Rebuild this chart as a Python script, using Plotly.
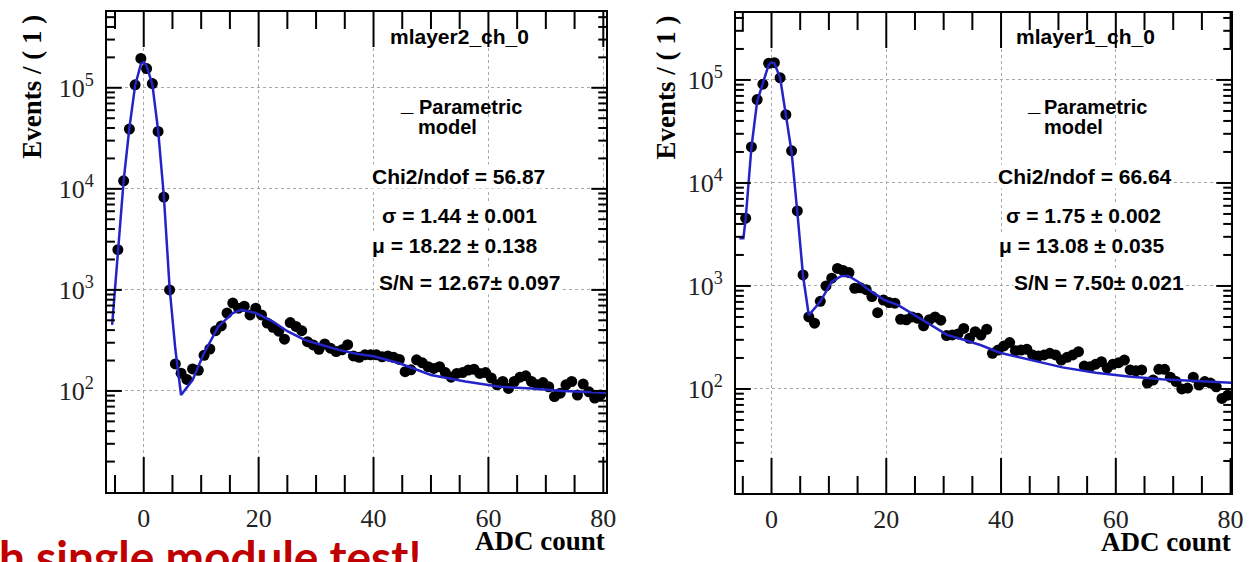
import plotly.graph_objects as go

W, H = 1260, 562

# ---------------- data ----------------
bin_centers = [-4.5, -3.5, -2.5, -1.5, -0.5, 0.5, 1.5, 2.5, 3.5, 4.5, 5.5, 6.5, 7.5, 8.5, 9.5,
               10.5, 11.5, 12.5, 13.5, 14.5, 15.5, 16.5, 17.5, 18.5, 19.5, 20.5, 21.5, 22.5,
               23.5, 24.5, 25.5, 26.5, 27.5, 28.5, 29.5, 30.5, 31.5, 32.5, 33.5, 34.5, 35.5,
               36.5, 37.5, 38.5, 39.5, 40.5, 41.5, 42.5, 43.5, 44.5, 45.5, 46.5, 47.5, 48.5,
               49.5, 50.5, 51.5, 52.5, 53.5, 54.5, 55.5, 56.5, 57.5, 58.5, 59.5, 60.5, 61.5,
               62.5, 63.5, 64.5, 65.5, 66.5, 67.5, 68.5, 69.5, 70.5, 71.5, 72.5, 73.5, 74.5,
               75.5, 76.5, 77.5, 78.5, 79.5]

layer2_counts = [2500, 12000, 39000, 107000, 195000, 155000, 110000, 37000, 8300, 1000,
                 185, 150, 130, 165, 160, 225, 260, 395, 440, 590, 740, 660, 690, 565, 660,
                 565, 470, 427, 390, 325, 475, 435, 395, 307, 285, 258, 292, 265, 245, 255,
                 287, 222, 215, 228, 228, 228, 218, 222, 215, 205, 155, 162, 203, 190, 174,
                 167, 174, 152, 137, 149, 152, 161, 164, 149, 152, 134, 115, 124, 106, 124,
                 137, 141, 124, 115, 121, 110, 88, 95, 115, 124, 91, 117, 98, 85, 91]

layer2_fit_x = [-5.5, -4.5, -3.5, -2.5, -1.5, -0.5, 0.0, 0.5, 1.5, 2.5, 3.5, 4.5, 5.5, 6.5,
                8.5, 10.5, 13.0, 15.5, 17.0, 19.5, 22.5, 25.0, 28.0, 31.0, 34.0, 37.0, 40.0,
                44.5, 50.0, 56.0, 62.0, 67.5, 73.0, 80.5]
layer2_fit_y = [450, 2600, 12000, 40000, 105000, 172000, 180000, 165000, 108000, 38000,
                8500, 1050, 260, 91, 128, 237, 435, 590, 635, 590, 485, 390, 320, 285, 255,
                233, 220, 188, 144, 124, 110, 106, 100, 96]

layer1_counts = [4550, 22400, 64500, 91000, 145000, 147000, 105000, 46000, 20500, 5350,
                 1280, 500, 435, 710, 1000, 1190, 1480, 1410, 1350, 950, 960, 920, 790, 550,
                 730, 690, 680, 475, 470, 500, 485, 410, 470, 500, 465, 330, 335, 342, 387,
                 310, 360, 334, 380, 222, 239, 262, 282, 235, 239, 243, 214, 209, 214, 222,
                 214, 191, 203, 214, 230, 167, 164, 174, 184, 159, 174, 180, 191, 153, 150,
                 153, 114, 122, 155, 155, 130, 118, 100, 102, 130, 109, 118, 114, 105, 81, 87]

layer1_fit_x = [-5.6, -4.9, -4.5, -3.5, -2.5, -1.5, -0.5, 0.0, 0.5, 1.5, 2.5, 3.5, 4.5, 5.5,
                6.5, 8.5, 10.5, 12.2, 13.4, 15.1, 17.4, 19.7, 22.0, 24.9, 27.8, 30.6, 33.5,
                36.4, 39.8, 45.0, 50.7, 56.5, 62.2, 68.0, 73.7, 80.1]
layer1_fit_y = [2900, 2900, 4500, 22000, 62000, 95000, 140000, 148000, 145000, 105000,
                48000, 20000, 5200, 1250, 520, 705, 1100, 1250, 1250, 1100, 880, 730, 655,
                520, 417, 335, 300, 267, 225, 191, 162, 144, 132, 124, 120, 115]

x_tickvals = [0, 20, 40, 60, 80]
x_ticktext = ["0", "20", "40", "60", "80"]
x_minor_ticks = [-5, 5, 10, 15, 25, 30, 35, 45, 50, 55, 65, 70, 75]
y_tickvals = [100, 1000, 10000, 100000]
y_ticktext = ["10<sup>2</sup>", "10<sup>3</sup>", "10<sup>4</sup>", "10<sup>5</sup>"]
y_minor_ticks = [20, 30, 40, 50, 60, 70, 80, 90,
                 200, 300, 400, 500, 600, 700, 800, 900,
                 2000, 3000, 4000, 5000, 6000, 7000, 8000, 9000,
                 20000, 30000, 40000, 50000, 60000, 70000, 80000, 90000,
                 200000, 300000, 400000, 500000]

left_title = "mlayer2_ch_0"
right_title = "mlayer1_ch_0"
left_stats = ["Chi2/ndof = 56.87", "σ = 1.44 ± 0.001", "μ = 18.22 ± 0.138", "S/N = 12.67± 0.097"]
right_stats = ["Chi2/ndof = 66.64", "σ = 1.75 ± 0.002", "μ = 13.08 ± 0.035", "S/N = 7.50± 0.021"]

# ---------------- styling ----------------
BLUE = "#2323c8"
SERIF = "Liberation Serif"
SANS = "Liberation Sans"

# panel frames in pixels: (left, top, right, bottom)
LEFT_BOX = (108, 12, 612, 492)
RIGHT_BOX = (743, 13, 1243, 493)
LEFT_XRANGE, LEFT_YRANGE = [-6.4, 80.5], [1.0, 5.75]
RIGHT_XRANGE, RIGHT_YRANGE = [-6.2, 80.1], [0.99, 5.65]
X_MAJOR_LEN, X_MINOR_LEN = 35, 17
Y_MAJOR_LEN, Y_MINOR_LEN = 15, 8


def px(x):
    return x / W


def py(y):
    return 1 - y / H


fig = go.Figure()

fig.add_trace(go.Scatter(x=bin_centers, y=layer2_counts, mode="markers",
                         marker=dict(color="black", size=11), xaxis="x", yaxis="y"))
fig.add_trace(go.Scatter(x=layer2_fit_x, y=layer2_fit_y, mode="lines",
                         line=dict(color=BLUE, width=2.5), xaxis="x", yaxis="y"))
fig.add_trace(go.Scatter(x=bin_centers, y=layer1_counts, mode="markers",
                         marker=dict(color="black", size=11), xaxis="x2", yaxis="y2"))
fig.add_trace(go.Scatter(x=layer1_fit_x, y=layer1_fit_y, mode="lines",
                         line=dict(color=BLUE, width=2.5), xaxis="x2", yaxis="y2"))


def xaxis_cfg(box, rng, anchor):
    return dict(domain=[px(box[0]), px(box[2])], range=rng, anchor=anchor,
                tickmode="array", tickvals=x_tickvals, ticktext=x_ticktext,
                ticks="", showline=True, linewidth=2, linecolor="black", mirror=True,
                showgrid=True, gridcolor="#a8a8a8", gridwidth=1, griddash="dot",
                zeroline=False, tickfont=dict(family=SERIF, size=26, color="#222"),
                ticklabelstandoff=2)


def yaxis_cfg(box, rng, anchor):
    return dict(domain=[py(box[3]), py(box[1])], type="log", range=rng, anchor=anchor,
                tickmode="array", tickvals=y_tickvals, ticktext=y_ticktext,
                ticks="", showline=True, linewidth=2, linecolor="black", mirror=True,
                showgrid=True, gridcolor="#a8a8a8", gridwidth=1, griddash="dot",
                zeroline=False, tickfont=dict(family=SERIF, size=26, color="#222"),
                ticklabelstandoff=6)


fig.update_layout(
    width=W, height=H, margin=dict(l=0, r=0, t=0, b=0),
    paper_bgcolor="white", plot_bgcolor="white", showlegend=False,
    xaxis=xaxis_cfg(LEFT_BOX, LEFT_XRANGE, "y"),
    yaxis=yaxis_cfg(LEFT_BOX, LEFT_YRANGE, "x"),
    xaxis2=xaxis_cfg(RIGHT_BOX, RIGHT_XRANGE, "y2"),
    yaxis2=yaxis_cfg(RIGHT_BOX, RIGHT_YRANGE, "x2"),
)

# ROOT-style inside tick marks on all four sides, placed by the axes' own scales
shapes = []


def add_ticks(xname, yname, box, xr, yr):
    width = box[2] - box[0]
    height = box[3] - box[1]
    line = dict(color="black", width=2)
    for vals, ln in ((x_tickvals, X_MAJOR_LEN), (x_minor_ticks, X_MINOR_LEN)):
        f = ln / height
        for v in vals:
            if xr[0] <= v <= xr[1]:
                for y0, y1 in ((0, f), (1, 1 - f)):
                    shapes.append(dict(type="line", xref=xname, yref=yname + " domain",
                                       x0=v, x1=v, y0=y0, y1=y1, line=line, layer="above"))
    for vals, ln in ((y_tickvals, Y_MAJOR_LEN), (y_minor_ticks, Y_MINOR_LEN)):
        f = ln / width
        for v in vals:
            if 10 ** yr[0] <= v <= 10 ** yr[1]:
                for x0, x1 in ((0, f), (1, 1 - f)):
                    shapes.append(dict(type="line", xref=xname + " domain", yref=yname,
                                       x0=x0, x1=x1, y0=v, y1=v, line=line, layer="above"))


add_ticks("x", "y", LEFT_BOX, LEFT_XRANGE, LEFT_YRANGE)
add_ticks("x2", "y2", RIGHT_BOX, RIGHT_XRANGE, RIGHT_YRANGE)

ann = []


def text(x, y, s, family=SANS, size=21, xanchor="left", bold=True, color="black",
         angle=0, bg=None, yanchor="middle"):
    d = dict(x=px(x), y=py(y), xref="paper", yref="paper",
             text="<b>" + s + "</b>" if bold else s, showarrow=False,
             xanchor=xanchor, yanchor=yanchor, textangle=angle,
             font=dict(family=family, size=size, color=color))
    if bg:
        d["bgcolor"] = bg
        d["borderpad"] = 0
    ann.append(d)


# left panel texts
text(392, 37, left_title)
text(402, 104, "_", size=22)
text(421, 107, "Parametric", size=20)
text(420, 127, "model", size=20)
for (xx, yy), s in zip([(375, 177), (385, 215), (375, 245), (382, 282)], left_stats):
    text(xx, yy, s, bg="white")
text(32, 87, "Events / ( 1 )", family=SERIF, size=27, angle=-90, xanchor="center")
text(613, 541, "ADC count", family=SERIF, size=27, xanchor="right")

# right panel texts
text(1024, 37, right_title)
text(1035, 104, "_", size=22)
text(1052, 107, "Parametric", size=20)
text(1052, 127, "model", size=20)
for (xx, yy), s in zip([(1007, 177), (1015, 215), (1008, 245), (1023, 282)], right_stats):
    text(xx, yy, s, bg="white")
text(672, 88, "Events / ( 1 )", family=SERIF, size=27, angle=-90, xanchor="center")
text(1245, 542, "ADC count", family=SERIF, size=27, xanchor="right")

# slide caption cut at the bottom
text(-3, 556, "h single module test!", family="Lato", size=46, color="#c00000")

fig.update_layout(annotations=ann, shapes=shapes)
fig.write_html("out.html")
